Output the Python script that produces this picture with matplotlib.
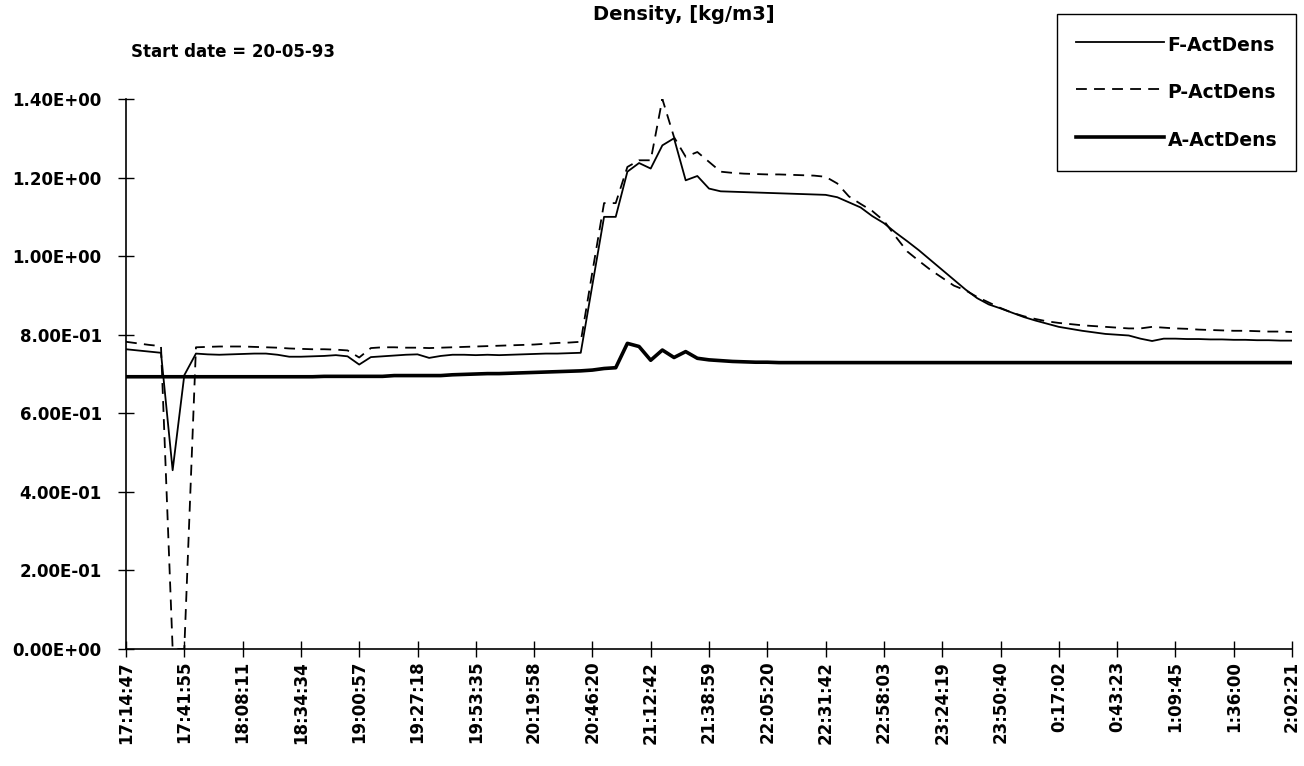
import matplotlib
matplotlib.use("Agg")
import matplotlib.pyplot as plt

plt.rcParams['font.family'] = ['DejaVu Sans']

# tick labels (every 5th sample)
time_labels = ['17:14:47', '17:41:55', '18:08:11', '18:34:34', '19:00:57', '19:27:18',
               '19:53:35', '20:19:58', '20:46:20', '21:12:42', '21:38:59', '22:05:20',
               '22:31:42', '22:58:03', '23:24:19', '23:50:40', '0:17:02', '0:43:23',
               '1:09:45', '1:36:00', '2:02:21']

f_dens = [0.763, 0.760, 0.757, 0.754, 0.455, 0.697, 0.752, 0.750, 0.749, 0.750,
          0.751, 0.752, 0.752, 0.749, 0.744, 0.744, 0.745, 0.746, 0.748, 0.745,
          0.724, 0.743, 0.745, 0.747, 0.749, 0.750, 0.741, 0.746, 0.749, 0.749,
          0.748, 0.749, 0.748, 0.749, 0.750, 0.751, 0.752, 0.752, 0.753, 0.754,
          0.927, 1.100, 1.100, 1.215, 1.237, 1.223, 1.282, 1.300, 1.193, 1.204,
          1.172, 1.165, 1.164, 1.163, 1.162, 1.161, 1.160, 1.159, 1.158, 1.157,
          1.156, 1.150, 1.137, 1.124, 1.102, 1.084, 1.060, 1.038, 1.015, 0.990,
          0.965, 0.940, 0.915, 0.893, 0.877, 0.867, 0.856, 0.845, 0.836, 0.828,
          0.820, 0.815, 0.810, 0.806, 0.802, 0.800, 0.798, 0.790, 0.784, 0.790,
          0.790, 0.789, 0.789, 0.788, 0.788, 0.787, 0.787, 0.786, 0.786, 0.785, 0.785]

p_dens = [0.782, 0.778, 0.774, 0.771, 0.000, 0.000, 0.768, 0.769, 0.770, 0.770,
          0.770, 0.769, 0.768, 0.767, 0.765, 0.764, 0.763, 0.763, 0.762, 0.760,
          0.742, 0.766, 0.768, 0.768, 0.767, 0.767, 0.766, 0.767, 0.768, 0.769,
          0.770, 0.771, 0.772, 0.773, 0.774, 0.775, 0.777, 0.779, 0.780, 0.782,
          0.960, 1.135, 1.135, 1.227, 1.244, 1.244, 1.400, 1.303, 1.253, 1.265,
          1.240, 1.215, 1.212, 1.210, 1.209, 1.208, 1.208, 1.207, 1.206, 1.205,
          1.202, 1.185, 1.152, 1.133, 1.115, 1.090, 1.050, 1.012, 0.988, 0.965,
          0.945, 0.925, 0.913, 0.896, 0.882, 0.868, 0.856, 0.847, 0.840, 0.834,
          0.830, 0.827, 0.824, 0.822, 0.820, 0.818, 0.816, 0.816, 0.820, 0.818,
          0.816, 0.815, 0.813, 0.812, 0.811, 0.810, 0.810, 0.809, 0.808, 0.808, 0.807]

a_dens = [0.693, 0.693, 0.693, 0.693, 0.693, 0.693, 0.693, 0.693, 0.693, 0.693,
          0.693, 0.693, 0.693, 0.693, 0.693, 0.693, 0.693, 0.694, 0.694, 0.694,
          0.694, 0.694, 0.694, 0.696, 0.696, 0.696, 0.696, 0.696, 0.698, 0.699,
          0.700, 0.701, 0.701, 0.702, 0.703, 0.704, 0.705, 0.706, 0.707, 0.708,
          0.710, 0.714, 0.716, 0.778, 0.770, 0.735, 0.761, 0.742, 0.757, 0.740,
          0.736, 0.734, 0.732, 0.731, 0.730, 0.730, 0.729, 0.729, 0.729, 0.729,
          0.729, 0.729, 0.729, 0.729, 0.729, 0.729, 0.729, 0.729, 0.729, 0.729,
          0.729, 0.729, 0.729, 0.729, 0.729, 0.729, 0.729, 0.729, 0.729, 0.729,
          0.729, 0.729, 0.729, 0.729, 0.729, 0.729, 0.729, 0.729, 0.729, 0.729,
          0.729, 0.729, 0.729, 0.729, 0.729, 0.729, 0.729, 0.729, 0.729, 0.729, 0.729]

y_ticks = [0.0, 0.2, 0.4, 0.6, 0.8, 1.0, 1.2, 1.4]
y_labels = ['0.00E+00', '2.00E-01', '4.00E-01', '6.00E-01', '8.00E-01',
            '1.00E+00', '1.20E+00', '1.40E+00']

W, H = 1304, 766
fig = plt.figure(figsize=(W / 100, H / 100), dpi=100)
ax = fig.add_axes([126 / W, 1 - 649 / H, (1292 - 126) / W, (649 - 99) / H])

x = list(range(len(f_dens)))
l1, = ax.plot(x, f_dens, color='black', lw=1.3, label='F-ActDens')
l2, = ax.plot(x, p_dens, color='black', lw=1.3, ls=(0, (6, 4)), label='P-ActDens')
l3, = ax.plot(x, a_dens, color='black', lw=2.6, label='A-ActDens')

fs = 12
ax.set_xlim(0, 100)
ax.set_ylim(0, 1.4)
ax.set_xticks(range(0, 101, 5))
ax.set_xticklabels(time_labels, rotation=90, fontsize=fs, fontweight='bold')
ax.set_yticks(y_ticks)
ax.set_yticklabels(y_labels, fontsize=fs, fontweight='bold')
ax.tick_params(axis='both', direction='inout', length=11, width=1.0, color='black')
ax.tick_params(axis='x', pad=3)
ax.tick_params(axis='y', pad=12)
for s in ['top', 'right']:
    ax.spines[s].set_visible(False)
ax.spines['left'].set_linewidth(1.2)
ax.spines['bottom'].set_linewidth(1.2)

fig.text(684 / W, 1 - 14 / H, 'Density, [kg/m3]', ha='center', va='center',
         fontsize=14, fontweight='bold')
fig.text(131 / W, 1 - 52 / H, 'Start date = 20-05-93', ha='left', va='center',
         fontsize=fs, fontweight='bold')

leg = fig.legend(handles=[l1, l2, l3], loc='upper left',
                 bbox_to_anchor=(1057 / W, 1 - 14 / H), borderaxespad=0,
                 fancybox=False, edgecolor='black', framealpha=1,
                 handlelength=4.7, handleheight=1.6, labelspacing=1.25, borderpad=1.0,
                 handletextpad=0.2, prop={'size': 13.5, 'weight': 'bold'})
leg.get_frame().set_linewidth(1.0)

fig.savefig('out.png', dpi=100)
